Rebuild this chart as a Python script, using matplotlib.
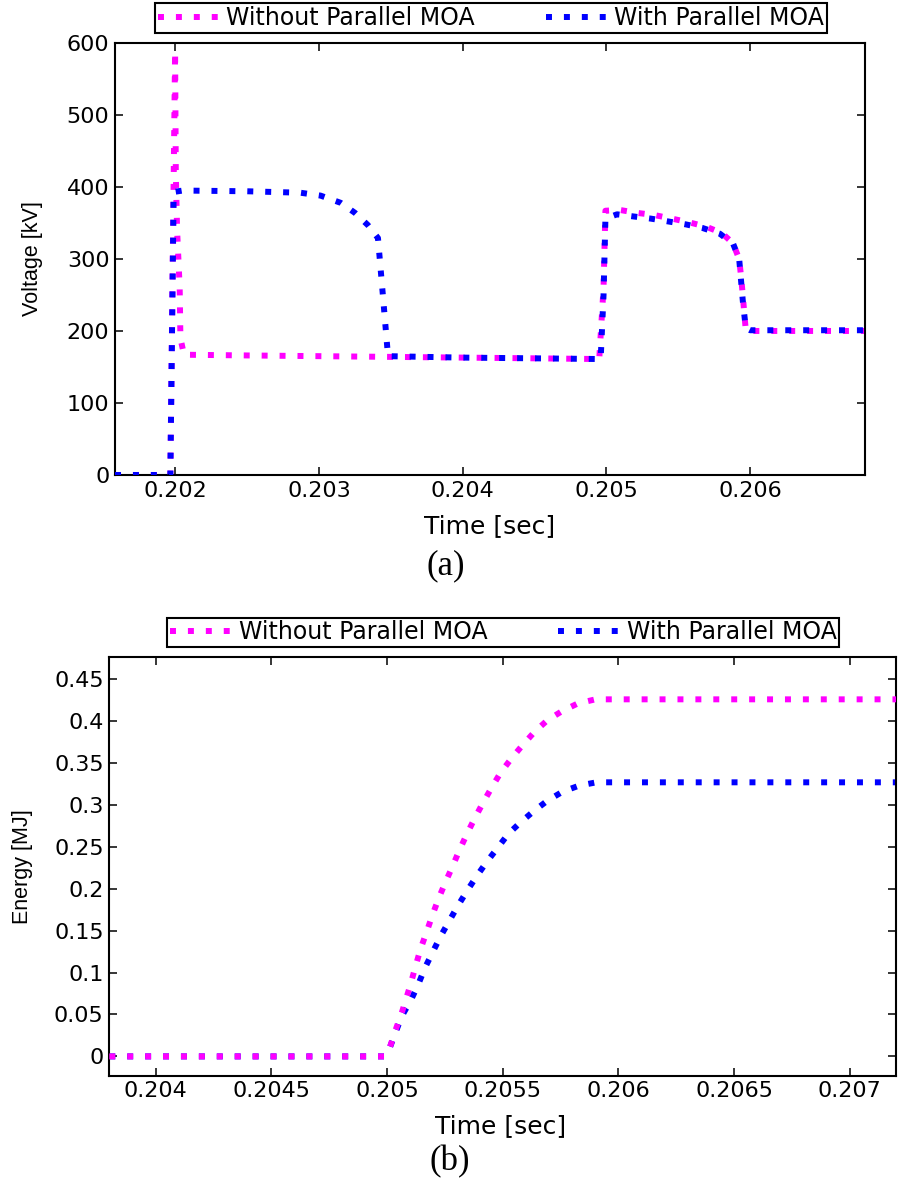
import matplotlib
matplotlib.use('Agg')
import matplotlib.pyplot as plt

# ---- (a) voltage, kV ----
t_v_without = [0.20158, 0.201965, 0.201998, 0.202003, 0.202012, 0.20203, 0.202035,
               0.20206, 0.2025, 0.2030, 0.2035, 0.2040, 0.2045, 0.20495, 0.20498,
               0.204993, 0.205095, 0.205213, 0.205333, 0.205456, 0.205572, 0.205692,
               0.205803, 0.20588, 0.205924, 0.20594, 0.20597, 0.2060, 0.2068]
v_without = [0, 0, 588, 420, 340, 260, 190,
             167, 166, 165, 164, 163, 162, 161, 260,
             367, 368, 364, 361, 356, 351, 345,
             336, 322, 300, 270, 201, 200, 200]

t_v_with = [0.20158, 0.201965, 0.201988, 0.20205, 0.2025, 0.20287, 0.20301, 0.20315,
            0.20325, 0.20334, 0.20341, 0.203444, 0.20348, 0.2040, 0.2045, 0.20496,
            0.20498, 0.204993, 0.205074, 0.20519, 0.20531, 0.205433, 0.205553,
            0.205669, 0.20579, 0.205882, 0.205924, 0.20595, 0.20597, 0.2060, 0.2068]
v_with = [0, 0, 393, 395, 394, 392, 388, 378,
          364, 347, 329, 250, 165, 163, 162, 161,
          250, 356, 362, 359, 356, 352, 348,
          343, 335, 321, 300, 240, 204, 201, 201]

# ---- (b) energy, MJ ----
t_e_without = [0.2038, 0.20499, 0.205012, 0.205034, 0.205064, 0.205101, 0.205123,
               0.205145, 0.205172, 0.205197, 0.205224, 0.205253, 0.205283, 0.205313,
               0.205345, 0.205379, 0.205416, 0.205453, 0.20549, 0.205538, 0.205585,
               0.205637, 0.205693, 0.205757, 0.205824, 0.205901, 0.2072]
e_without = [0, 0, 0.0103, 0.029, 0.052, 0.085, 0.107,
             0.128, 0.149, 0.169, 0.189, 0.208, 0.2265, 0.246,
             0.265, 0.284, 0.303, 0.321, 0.338, 0.3556, 0.371,
             0.387, 0.401, 0.412, 0.421, 0.426, 0.426]

t_e_with = [0.2038, 0.20499, 0.205012, 0.205064, 0.205105, 0.205135, 0.205164,
            0.205197, 0.205231, 0.205268, 0.205305, 0.205345, 0.205387, 0.205431,
            0.205476, 0.205523, 0.205576, 0.205636, 0.205693, 0.20576, 0.20583,
            0.205905, 0.2072]
e_with = [0, 0, 0.0103, 0.048, 0.068, 0.0857, 0.1056,
          0.124, 0.143, 0.161, 0.179, 0.197, 0.2147, 0.232,
          0.248, 0.265, 0.279, 0.293, 0.305, 0.316, 0.323,
          0.327, 0.327]

xticks_a = [0.202, 0.203, 0.204, 0.205, 0.206]
xlabels_a = ['0.202', '0.203', '0.204', '0.205', '0.206']
yticks_a = [0, 100, 200, 300, 400, 500, 600]
ylabels_a = ['0', '100', '200', '300', '400', '500', '600']

xticks_b = [0.204, 0.2045, 0.205, 0.2055, 0.206, 0.2065, 0.207]
xlabels_b = ['0.204', '0.2045', '0.205', '0.2055', '0.206', '0.2065', '0.207']
yticks_b = [0, 0.05, 0.1, 0.15, 0.2, 0.25, 0.3, 0.35, 0.4, 0.45]
ylabels_b = ['0', '0.05', '0.1', '0.15', '0.2', '0.25', '0.3', '0.35', '0.4', '0.45']

MAG = '#ff00ff'
BLU = '#0000ff'
dots = (0, (1, 2.0))
lw = 4.3

plt.rcParams['font.family'] = 'DejaVu Sans'

fig = plt.figure(figsize=(8.98, 11.83), dpi=100)
ax1 = fig.add_axes([0.1281, 0.5985, 0.8352, 0.3652])
ax2 = fig.add_axes([0.1217, 0.0905, 0.8761, 0.3542])


def style(ax, xt, xl, yt, yl):
    ax.set_xticks(xt)
    ax.set_xticklabels(xl)
    ax.set_yticks(yt)
    ax.set_yticklabels(yl)
    ax.tick_params(direction='in', length=5.8, width=1.1, top=True, right=True,
                   labelsize=16, pad=4)
    for s in ax.spines.values():
        s.set_linewidth(1.5)


def legend(ax, y):
    leg = ax.legend(loc='center', bbox_to_anchor=(0.501, y), ncol=2, fontsize=17,
                    frameon=True, fancybox=False, edgecolor='black', framealpha=1,
                    handlelength=2.6, handletextpad=0.3, columnspacing=3.0,
                    borderpad=0.12, borderaxespad=0)
    leg.get_frame().set_linewidth(1.5)


# (a)
ax1.plot(t_v_without, v_without, color=MAG, lw=lw, ls=dots, label='Without Parallel MOA', zorder=2)
ax1.plot(t_v_with, v_with, color=BLU, lw=lw, ls=dots, label='With Parallel MOA', zorder=3)
ax1.set_xlim(0.20158, 0.2068)
ax1.set_ylim(0, 600)
style(ax1, xticks_a, xlabels_a, yticks_a, ylabels_a)
ax1.set_xlabel('Time [sec]', fontsize=18)
ax1.xaxis.set_label_coords(0.4987, -0.09)
ax1.set_ylabel('Voltage [kV]', fontsize=15.5, family='Liberation Sans')
ax1.yaxis.set_label_coords(-0.096, 0.5)
legend(ax1, 1.058)

# (b)
ax2.plot(t_e_with, e_with, color=BLU, lw=lw, ls=dots, zorder=2)
ax2.plot(t_e_without, e_without, color=MAG, lw=lw, ls=dots, zorder=3)
ax2.plot([], [], color=MAG, lw=lw, ls=dots, label='Without Parallel MOA')
ax2.plot([], [], color=BLU, lw=lw, ls=dots, label='With Parallel MOA')
ax2.set_xlim(0.2038, 0.2072)
ax2.set_ylim(-0.0233, 0.4766)
style(ax2, xticks_b, xlabels_b, yticks_b, ylabels_b)
ax2.set_xlabel('Time [sec]', fontsize=18)
ax2.xaxis.set_label_coords(0.497, -0.091)
ax2.set_ylabel('Energy [MJ]', fontsize=15.5, family='Liberation Sans')
ax2.yaxis.set_label_coords(-0.097, 0.5)
legend(ax2, 1.0585)

fig.text(446 / 898, 1 - 566 / 1183, '(a)', ha='center', va='center',
         fontsize=25, family='Liberation Serif')
fig.text(450 / 898, 1 - 1162 / 1183, '(b)', ha='center', va='center',
         fontsize=25, family='Liberation Serif')

fig.savefig('out.png', dpi=100)
